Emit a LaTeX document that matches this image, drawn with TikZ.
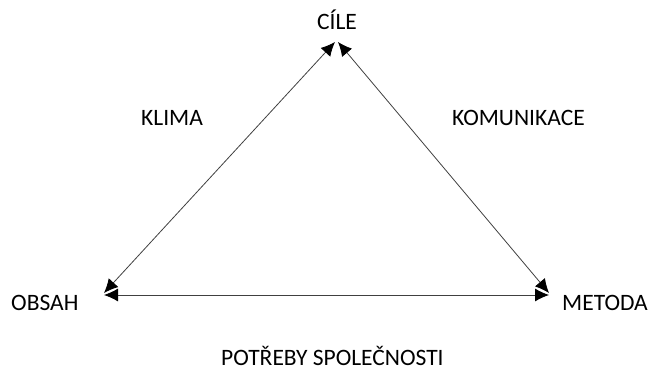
\documentclass[tikz,border=0pt]{standalone}
\usepackage{fontspec}
\setmainfont{Carlito}
\usetikzlibrary{arrows.meta}
\begin{document}
\begin{tikzpicture}[x=1pt,y=-1pt,
  lbl/.style={inner sep=0pt,font=\fontsize{23.5}{27}\selectfont,anchor=base west},
  edge/.style={{Latex[length=14pt,width=13pt,black]}-{Latex[length=14pt,width=13pt,black]},draw=black!75,line width=0.8pt}]
\useasboundingbox (0,0) rectangle (657,374);
\node[lbl,anchor=base] (cile) at (337,30) {CÍLE};
\node[lbl] (obsah) at (11,311) {OBSAH};
\node[lbl] (metoda) at (562,311) {METODA};
\node[lbl] (klima) at (141,126) {KLIMA};
\node[lbl] (kom) at (452,126) {KOMUNIKACE};
\node[lbl] (pot) at (221,366) {POTŘEBY SPOLEČNOSTI};
\coordinate (tl) at (335,42);
\coordinate (tr) at (338,42);
\coordinate (bl) at (104,293);
\coordinate (blh) at (104,295);
\coordinate (br) at (549,293);
\coordinate (brh) at (549,295);
\draw[edge] (bl) -- (tl);
\draw[edge] (tr) -- (br);
\draw[edge] (blh) -- (brh);
\end{tikzpicture}
\end{document}
